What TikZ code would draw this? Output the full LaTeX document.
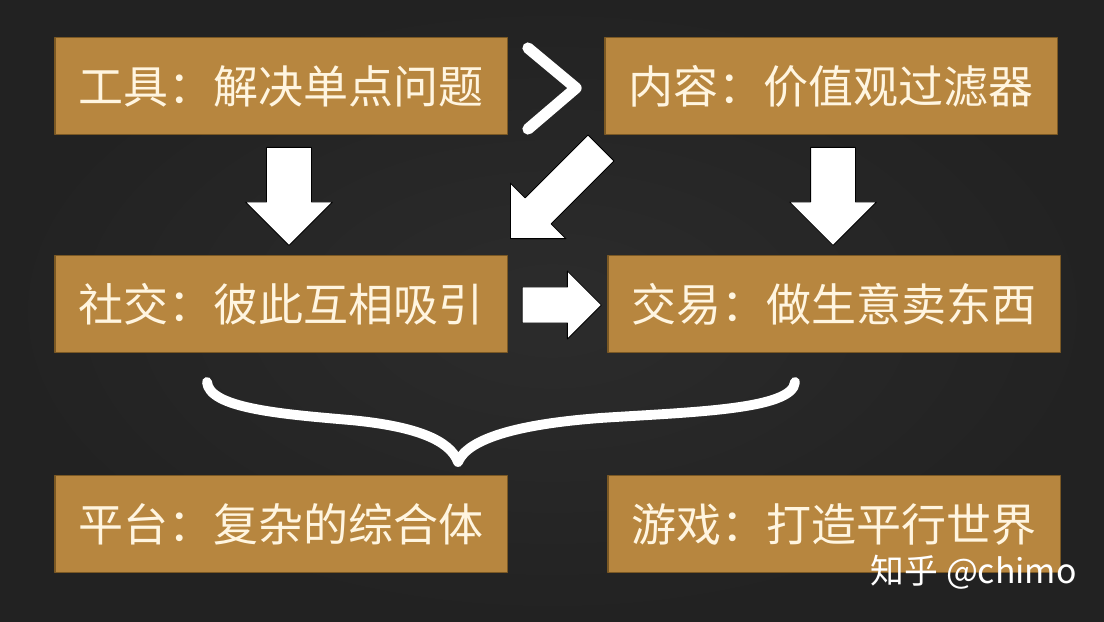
\documentclass[tikz,border=0pt]{standalone}
\usepackage{fontspec}
\setmainfont{Noto Sans CJK SC}
\usetikzlibrary{shapes.arrows}
\definecolor{board}{HTML}{222222}
\definecolor{boardlt}{HTML}{2C2C2C}
\definecolor{ochre}{HTML}{B7863F}
\definecolor{ochredk}{HTML}{7A5824}
\definecolor{cream}{HTML}{FFF5E0}
\tikzset{fig/.style={line join=round,x=0.025cm,y=-0.025cm},
  card/.style={draw=ochredk,fill=ochre,line width=0.8pt,minimum width=11.3cm,minimum height=2.42cm,
    inner sep=0pt,text=cream,font=\fontsize{32}{36}\selectfont},
  blk/.style={single arrow,fill=white,draw=black,line width=0.6pt,inner xsep=0pt,anchor=tip}}
\begin{document}
\begin{tikzpicture}[fig]
  \shade[inner color=boardlt,outer color=board](0,0)rectangle(1104,621);
  \useasboundingbox(0,0)rectangle(1104,621);
  % cards
  \node[card](tool)at(281,86){工具：解决单点问题};
  \node[card](content)at(831,86){内容：价值观过滤器};
  \node[card](social)at(281,304){社交：彼此互相吸引};
  \node[card](trade)at(834,304){交易：做生意卖东西};
  \node[card](platform)at(281,524){平台：复杂的综合体};
  \node[card](game)at(834,524){游戏：打造平行世界};
  % block arrows
  \node[blk,rotate=-90,inner ysep=0.55cm,single arrow head extend=0.525cm,minimum height=2.45cm](down1)at(289,246){};
  \node[blk,rotate=-90,inner ysep=0.55cm,single arrow head extend=0.525cm,minimum height=2.45cm](down2)at(833,246){};
  \node[blk,rotate=225,inner ysep=0.45cm,single arrow head extend=0.52cm,minimum height=3.2cm](diag)at(510,239){};
  \node[blk,inner ysep=0.44cm,single arrow head extend=0.4cm,minimum height=1.98cm](right1)at(602,305){};
  % chevron and brace
  \draw[white,line width=8pt,line cap=round](528,48)--(576,88)--(528,129);
  \draw[white,line width=7pt,line cap=round](207,382)..controls(209,408)and(280,414)..(350,420)
    ..controls(415,426)and(450,440)..(458,462)..controls(468,438)and(520,424)..(600,418)
    ..controls(690,412)and(793,410)..(795,382);
  \node[white,font=\fontsize{24}{28}\selectfont,anchor=west](mark)at(866,572){知乎 @chimo};
\end{tikzpicture}
\end{document}
